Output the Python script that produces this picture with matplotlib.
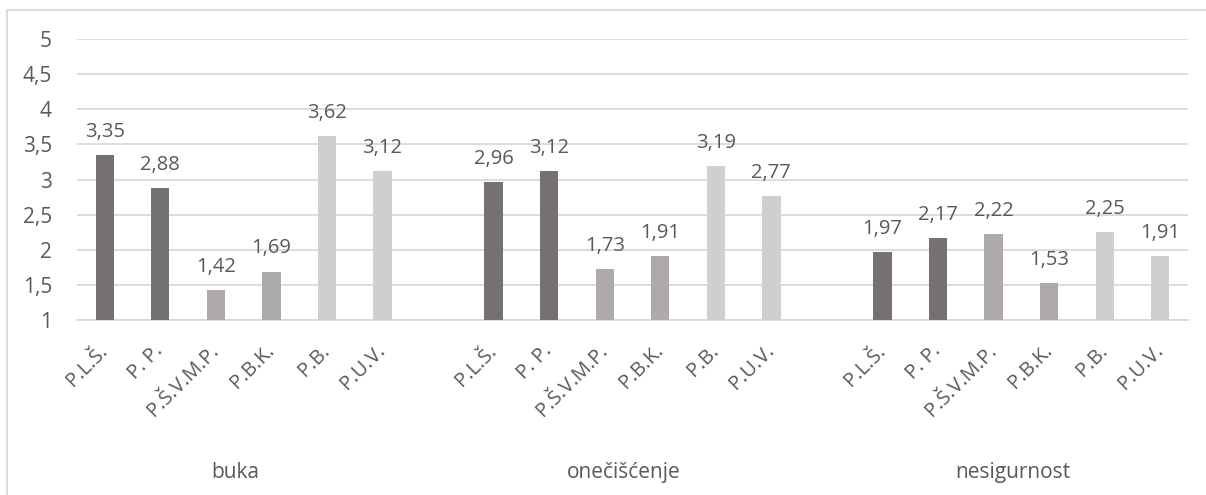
import matplotlib
matplotlib.use("Agg")
import matplotlib.pyplot as plt
from matplotlib.patches import Rectangle

plt.rcParams['font.family'] = ['Open Sans', 'DejaVu Sans']

groups = ['buka', 'onečišćenje', 'nesigurnost']
categories = ['P.L.Š.', 'P. P.', 'P.Š.V.M.P.', 'P.B.K.', 'P.B.', 'P.U.V.']
buka = [3.35, 2.88, 1.42, 1.69, 3.62, 3.12]
oneciscenje = [2.96, 3.12, 1.73, 1.91, 3.19, 2.77]
nesigurnost = [1.97, 2.17, 2.22, 1.53, 2.25, 1.91]
yticks = [1, 1.5, 2, 2.5, 3, 3.5, 4, 4.5, 5]
ytick_labels = ['1', '1,5', '2', '2,5', '3', '3,5', '4', '4,5', '5']

colors = ['#767171', '#767171', '#AEAAAA', '#AEAAAA', '#D0CECE', '#D0CECE']
text_color = '#595959'
grid_color = '#D9D9D9'

W, H = 1206, 495
fig = plt.figure(figsize=(W / 100, H / 100), dpi=100)
ax = fig.add_axes([77 / W, (H - 320) / H, (1188 - 77) / W, (320 - 39) / H])

# border of chart area
fig.patches.append(Rectangle((7 / W, -0.05), 1.2, (H - 10) / H + 0.05,
                             transform=fig.transFigure, fill=False,
                             edgecolor='#D9D9D9', linewidth=1.3))

series = [buka, oneciscenje, nesigurnost]
positions = []
labels = []
group_centers = []
slot = 0
for gi, vals in enumerate(series):
    xs = []
    for ci, v in enumerate(vals):
        xs.append(slot)
        positions.append(slot)
        labels.append(categories[ci])
        slot += 1
    slot += 1  # gap between groups
    ax.bar(xs, vals, width=0.33, bottom=0, color=colors, zorder=3)
    for x, v in zip(xs, vals):
        ax.annotate(f"{v:.2f}".replace('.', ','), (x, v), xytext=(0, 13),
                    textcoords='offset points', ha='center', va='baseline',
                    fontsize=14.5, color=text_color)
    group_centers.append(sum(xs) / len(xs))

ax.set_xlim(-0.5, 19.5)
ax.set_ylim(1, 5)
ax.set_yticks(yticks)
ax.set_yticklabels(ytick_labels)
ax.set_xticks(positions)
ax.set_xticklabels(labels, rotation=45, ha='right', va='center',
                   rotation_mode='anchor')
ax.tick_params(axis='x', length=0, pad=20, labelsize=14.5, labelcolor=text_color)
ax.tick_params(axis='y', length=0, pad=18, labelsize=15, labelcolor=text_color)

ax.grid(axis='y', color=grid_color, linewidth=1.3, zorder=0)
for s in ['top', 'right', 'left']:
    ax.spines[s].set_visible(False)
ax.spines['bottom'].set_color(grid_color)
ax.spines['bottom'].set_linewidth(1.3)

for g, c in zip(groups, group_centers):
    ax.text(c - 0.15, -0.541, g, transform=ax.get_xaxis_transform(),
            ha='center', va='center', fontsize=15, color=text_color)

fig.savefig('out.png', dpi=100)
